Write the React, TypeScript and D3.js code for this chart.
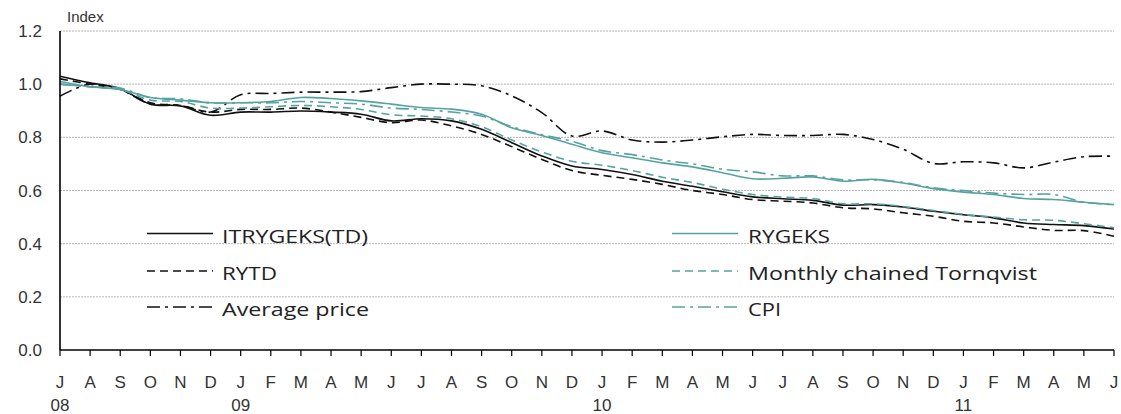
import React from "react";
import * as d3 from "d3";

const monthLabels = ["J","A","S","O","N","D","J","F","M","A","M","J","J","A","S","O","N","D","J","F","M","A","M","J","J","A","S","O","N","D","J","F","M","A","M","J"];
const yearLabels = [
  { index: 0, label: "08" },
  { index: 6, label: "09" },
  { index: 18, label: "10" },
  { index: 30, label: "11" },
];
const yTicks = [0, 0.2, 0.4, 0.6, 0.8, 1.0, 1.2];

const itrygeksTD = [1.03,1.005,0.983,0.925,0.918,0.883,0.895,0.895,0.899,0.895,0.887,0.862,0.87,0.862,0.83,0.78,0.73,0.692,0.679,0.66,0.635,0.616,0.595,0.576,0.569,0.563,0.545,0.547,0.538,0.522,0.509,0.497,0.478,0.472,0.468,0.455];
const rytd = [1.02,1.0,0.98,0.93,0.92,0.895,0.905,0.905,0.91,0.895,0.875,0.855,0.865,0.843,0.811,0.765,0.717,0.675,0.657,0.642,0.623,0.6,0.585,0.566,0.56,0.553,0.535,0.531,0.516,0.503,0.484,0.478,0.463,0.45,0.449,0.428];
const averagePrice = [0.955,1.0,0.98,0.925,0.92,0.895,0.96,0.965,0.97,0.97,0.972,0.987,1.0,1.0,0.994,0.956,0.893,0.805,0.824,0.79,0.782,0.79,0.802,0.811,0.807,0.807,0.811,0.792,0.755,0.702,0.708,0.704,0.685,0.707,0.727,0.729];
const rygeks = [1.01,0.99,0.98,0.95,0.94,0.93,0.93,0.935,0.95,0.946,0.937,0.925,0.912,0.906,0.887,0.836,0.807,0.774,0.742,0.723,0.704,0.689,0.667,0.644,0.646,0.651,0.635,0.642,0.628,0.607,0.594,0.585,0.57,0.566,0.556,0.547];
const tornqvist = [1.0,0.99,0.98,0.94,0.935,0.91,0.91,0.915,0.92,0.915,0.905,0.885,0.88,0.87,0.84,0.79,0.745,0.71,0.695,0.675,0.65,0.63,0.605,0.585,0.575,0.57,0.55,0.55,0.54,0.525,0.51,0.5,0.49,0.488,0.475,0.46];
const cpi = [1.0,0.99,0.985,0.95,0.945,0.93,0.93,0.93,0.935,0.93,0.925,0.91,0.905,0.895,0.88,0.84,0.81,0.785,0.75,0.735,0.715,0.7,0.68,0.67,0.655,0.655,0.64,0.64,0.63,0.61,0.6,0.59,0.585,0.585,0.556,0.547];

const BLACK = "#111";
const TEAL = "#55a3a1";

const seriesList = [
  { name: "ITRYGEKS(TD)", values: itrygeksTD, color: BLACK, dash: "", col: 0, row: 0, textLen: 146 },
  { name: "RYTD", values: rytd, color: BLACK, dash: "8,5", col: 0, row: 1, textLen: 55 },
  { name: "Average price", values: averagePrice, color: BLACK, dash: "13,5,3,5", col: 0, row: 2, textLen: 147 },
  { name: "RYGEKS", values: rygeks, color: TEAL, dash: "", col: 1, row: 0, textLen: 82 },
  { name: "Monthly chained Tornqvist", values: tornqvist, color: TEAL, dash: "8,5", col: 1, row: 1, textLen: 289 },
  { name: "CPI", values: cpi, color: TEAL, dash: "13,5,3,5", col: 1, row: 2, textLen: 33 },
];

const W = 1121;
const H = 414;
const left = 60;
const right = 1114;
const top = 31;
const bottom = 350;

export default function App() {
  const x = d3.scaleLinear().domain([0, monthLabels.length - 1]).range([left, right]);
  const y = d3.scaleLinear().domain([0, 1.2]).range([bottom, top]);
  const line = d3
    .line<number>()
    .x((_, i) => x(i))
    .y((v) => y(v))
    .curve(d3.curveCatmullRom.alpha(0.5));

  const legendLineX = [[147, 213], [672, 738]];
  const legendTextX = [222, 748];
  const legendRowY = [233.5, 271, 307];

  const axisFont = "'Liberation Sans', Arial, sans-serif";
  const legendFont = "'Open Sans', 'Noto Sans', sans-serif";

  return (
    <svg
      width={W}
      height={H}
      style={{ position: "absolute", left: 0, top: 0, background: "#fff" }}
    >
      {/* gridlines */}
      {yTicks.filter((t) => t > 0).map((t) => (
        <line
          key={"g" + t}
          x1={left}
          x2={right}
          y1={y(t)}
          y2={y(t)}
          stroke="#b9b4b8"
          strokeWidth={1}
          strokeDasharray="2,1"
        />
      ))}
      {/* y labels */}
      {yTicks.map((t) => (
        <text
          key={"yl" + t}
          x={42}
          y={y(t) + 6}
          textAnchor="end"
          fontFamily={axisFont}
          fontSize={17}
          fill="#333"
        >
          {t.toFixed(1)}
        </text>
      ))}
      <text x={67} y={22} fontFamily={axisFont} fontSize={15} fill="#333">
        Index
      </text>
      {/* series */}
      {seriesList.map((s) => (
        <path
          key={s.name}
          d={line(s.values) || ""}
          fill="none"
          stroke={s.color}
          strokeWidth={1.6}
          strokeDasharray={s.dash}
        />
      ))}
      {/* axes */}
      <line x1={left} x2={left} y1={top} y2={bottom} stroke="#000" strokeWidth={1.6} />
      <line x1={left} x2={right} y1={bottom} y2={bottom} stroke="#000" strokeWidth={1.6} />
      {monthLabels.map((m, i) => (
        <g key={"xt" + i}>
          <line x1={x(i)} x2={x(i)} y1={bottom} y2={bottom + 6} stroke="#000" strokeWidth={1.2} />
          <text
            x={x(i)}
            y={388}
            textAnchor="middle"
            fontFamily={axisFont}
            fontSize={17}
            fill="#333"
          >
            {m}
          </text>
        </g>
      ))}
      {yearLabels.map((yl) => (
        <text
          key={"yr" + yl.label}
          x={x(yl.index)}
          y={411}
          textAnchor="middle"
          fontFamily={axisFont}
          fontSize={17}
          fill="#333"
        >
          {yl.label}
        </text>
      ))}
      {/* legend */}
      {seriesList.map((s) => (
        <g key={"lg" + s.name}>
          <line
            x1={legendLineX[s.col][0]}
            x2={legendLineX[s.col][1]}
            y1={legendRowY[s.row]}
            y2={legendRowY[s.row]}
            stroke={s.color}
            strokeWidth={1.6}
            strokeDasharray={s.dash}
          />
          <text
            x={legendTextX[s.col]}
            y={legendRowY[s.row] + 9}
            fontFamily={legendFont}
            fontSize={18}
            fill="#222"
            textLength={s.textLen}
            lengthAdjust="spacingAndGlyphs"
          >
            {s.name}
          </text>
        </g>
      ))}
    </svg>
  );
}
